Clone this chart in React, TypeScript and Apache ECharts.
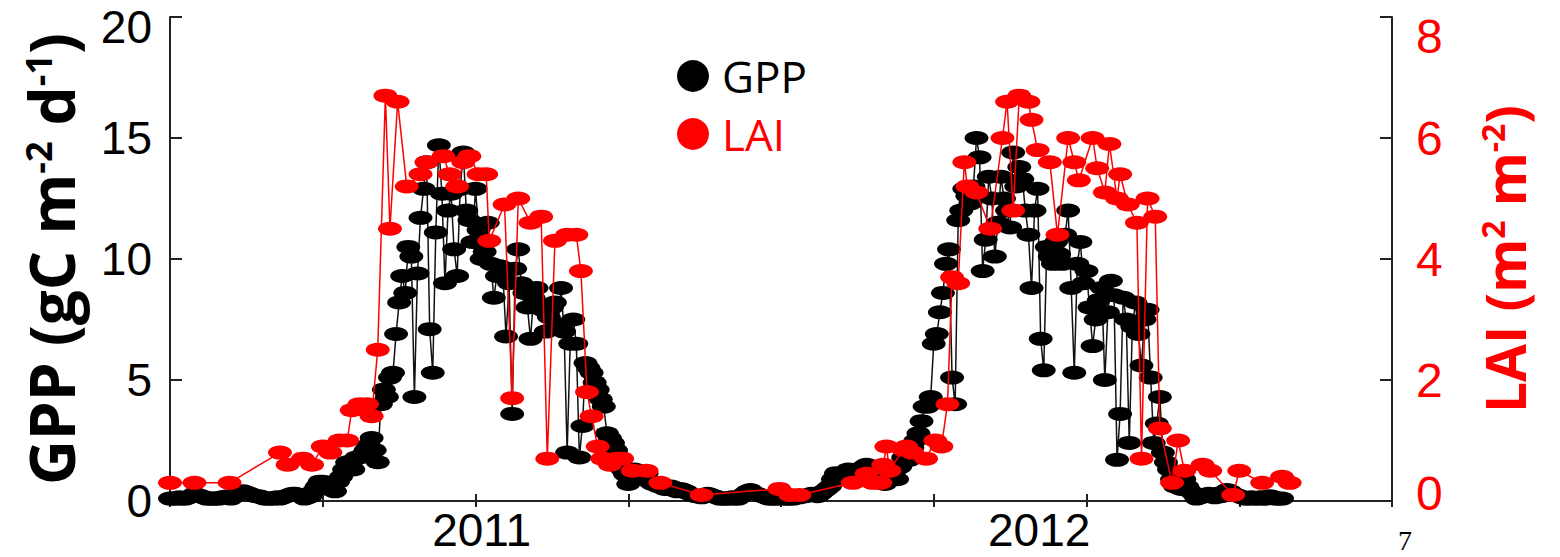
import React, { useEffect, useRef } from "react";
import * as echarts from "echarts";

// Dates are MATLAB-style day numbers (734504 = 1 Jan 2011)
const X_MIN = 734300;
const X_MAX = 735100;
const X_TICK = 100;
const yearLabelDates = [734504, 734869];
const yearLabelTexts = ["2011", "2012"];

// GPP every 2 days: gppA on days X_MIN + 4k, gppB on days X_MIN + 4k + 2
const GPP_START = 734300;
const gppA = [
  0.1, 0.1, 0.1, 0.15, 0.3, 0.2, 0.1, 0.1, 0.1, 0.15,
  0.1, 0.3, 0.4, 0.3, 0.2, 0.15, 0.1, 0.1, 0.1, 0.2,
  0.3, 0.25, 0.1, 0.2, 0.6, 0.8, 0.5, 0.4, 1.0, 1.6,
  1.3, 1.8, 2.1, 2.6, 1.6, 4.6, 5.1, 6.9, 9.3, 10.5,
  4.3, 11.7, 14.0, 5.3, 14.7, 9.0, 12.7, 9.3, 14.4, 11.6,
  12.9, 10.0, 11.5, 8.4, 9.7, 6.8, 3.6, 10.4, 8.6, 6.7,
  8.8, 7.9, 7.6, 8.2, 8.8, 2.0, 7.5, 1.8, 5.7, 5.3,
  4.6, 3.9, 2.6, 2.1, 1.3, 0.7, 1.3, 1.0, 1.15, 0.7,
  0.6, 0.5, 0.6, 0.4, 0.45, 0.3, 0.2, 0.15, 0.3, 0.2,
  0.1, 0.1, 0.15, 0.1, 0.3, 0.45, 0.3, 0.2, 0.1, 0.1,
  0.15, 0.1, 0.1, 0.15, 0.2, 0.3, 0.2, 0.4, 0.6, 1.15,
  0.9, 1.3, 0.8, 1.2, 1.5, 1.4, 1.0, 0.7, 1.3, 0.9,
  1.8, 1.7, 2.5, 3.3, 3.9, 6.5, 7.8, 9.8, 5.1, 11.6,
  12.9, 12.3, 15.0, 9.5, 13.4, 10.1, 13.4, 12.0, 14.4, 13.8,
  12.0, 8.8, 12.9, 5.4, 10.1, 10.7, 9.8, 12.0, 5.3, 10.7,
  9.5, 6.4, 8.3, 5.0, 9.1, 1.7, 8.4, 2.4, 8.2, 5.6,
  7.9, 2.4, 4.3, 1.6, 0.9, 0.6, 0.9, 0.4, 0.1, 0.2,
  0.3, 0.15, 0.2, 0.45, 0.3, 0.2, 0.1, 0.15, 0.1, 0.1,
  0.2, 0.1, 0.1,
];
const gppB = [
  0.1, 0.15, 0.1, 0.2, 0.25, 0.15, 0.1, 0.1, 0.15, 0.2,
  0.2, 0.35, 0.35, 0.25, 0.2, 0.1, 0.1, 0.15, 0.15, 0.25,
  0.3, 0.2, 0.15, 0.4, 0.8, 0.7, 0.6, 0.8, 1.3, 1.5,
  1.8, 1.9, 2.3, 2.1, 4.0, 4.3, 5.3, 8.2, 8.6, 10.1,
  9.4, 12.9, 7.1, 11.1, 12.7, 12.0, 10.4, 12.9, 12.0, 10.7,
  11.2, 10.3, 9.8, 9.3, 9.3, 9.0, 9.6, 9.0, 8.0, 8.4,
  8.0, 7.0, 8.0, 7.3, 7.0, 6.5, 6.5, 3.1, 5.5, 4.9,
  4.2, 2.8, 2.4, 1.8, 1.1, 1.0, 0.9, 1.2, 0.8, 0.7,
  0.6, 0.5, 0.45, 0.5, 0.4, 0.25, 0.2, 0.2, 0.25, 0.15,
  0.1, 0.1, 0.1, 0.2, 0.4, 0.35, 0.25, 0.15, 0.1, 0.1,
  0.1, 0.1, 0.15, 0.2, 0.25, 0.25, 0.3, 0.5, 0.9, 1.0,
  1.1, 1.0, 1.3, 1.4, 1.2, 1.1, 0.9, 1.0, 1.2, 1.4,
  1.8, 2.2, 2.8, 3.9, 4.3, 6.9, 8.6, 10.4, 4.0, 12.0,
  12.6, 13.0, 14.2, 10.8, 12.5, 11.5, 12.5, 11.3, 13.0, 13.3,
  11.0, 12.0, 6.7, 10.5, 9.8, 10.2, 11.0, 8.8, 9.8, 9.0,
  8.0, 7.5, 8.8, 7.8, 8.5, 3.6, 7.5, 7.2, 6.9, 7.5,
  5.1, 3.2, 2.0, 1.3, 0.6, 0.5, 0.6, 0.3, 0.15, 0.2,
  0.2, 0.3, 0.35, 0.4, 0.25, 0.15, 0.1, 0.1, 0.15, 0.1,
  0.15, 0.1,
];

const laiDates = [
  734300, 734316, 734339, 734372, 734377, 734387, 734393, 734400, 734405, 734411,
  734416, 734419, 734424, 734429, 734432, 734436, 734441, 734444, 734449, 734455,
  734464, 734468, 734479, 734483, 734488, 734492, 734496, 734502, 734507, 734509,
  734519, 734524, 734528, 734536, 734543, 734547, 734552, 734560, 734566, 734569,
  734573, 734576, 734580, 734583, 734588, 734593, 734596, 734603, 734612, 734621,
  734648, 734699, 734706, 734712, 734747, 734756, 734760, 734765, 734767, 734769,
  734771, 734780, 734782, 734786, 734795, 734801, 734805, 734809, 734812, 734816,
  734820, 734822, 734828, 734837, 734845, 734848, 734852, 734856, 734862, 734864,
  734868, 734876, 734881, 734888, 734892, 734895, 734904, 734907, 734912, 734915,
  734920, 734922, 734927, 734933, 734936, 734940, 734945, 734948, 734956, 734960,
  734964, 734976, 734981, 734996, 735000, 735015, 735028, 735033,
];
const laiValues = [
  0.3, 0.3, 0.3, 0.8, 0.6, 0.7, 0.6, 0.9, 0.8, 1.0,
  1.0, 1.5, 1.6, 1.6, 1.4, 2.5, 6.7, 4.5, 6.6, 5.2,
  5.4, 5.6, 5.7, 5.4, 5.2, 5.6, 5.7, 5.4, 5.4, 4.3,
  4.9, 1.7, 5.0, 4.6, 4.7, 0.7, 4.3, 4.4, 4.4, 3.8,
  1.8, 1.4, 0.9, 0.7, 0.6, 0.7, 0.7, 0.5, 0.5, 0.3,
  0.1, 0.2, 0.1, 0.1, 0.3, 0.45, 0.3, 0.3, 0.6, 0.9,
  0.5, 0.85, 0.9, 0.8, 0.7, 1.0, 0.9, 1.6, 3.7, 3.6,
  5.6, 5.2, 5.1, 4.5, 6.0, 6.6, 4.8, 6.7, 6.6, 6.3,
  5.8, 5.6, 4.4, 6.0, 5.6, 5.3, 6.0, 5.5, 5.1, 5.9,
  5.0, 5.4, 4.9, 4.6, 0.7, 5.0, 4.7, 1.2, 0.3, 1.0,
  0.5, 0.6, 0.5, 0.1, 0.5, 0.3, 0.4, 0.3,
];

const GPP_MAX = 20;
const GPP_INTERVAL = 5;
const LAI_MAX = 8;
const LAI_INTERVAL = 2;
// where the reference places its y tick labels (end labels are nudged inwards)
const gppLabelAt = [0, 5, 10, 15, 19.6];
const laiLabelAt = [0.12, 2, 4, 6, 7.67];

const FONT = "'Open Sans', 'Liberation Sans', sans-serif";
const TICK_FONT = "'Liberation Sans', Arial, sans-serif";
const RED = "#ff0000";
const AXIS_COLOR = "#222";

export default function App() {
  const ref = useRef<HTMLDivElement>(null);

  useEffect(() => {
    if (!ref.current) return;
    const chart = echarts.init(ref.current, undefined, { renderer: "svg" });

    const gppData: number[][] = [];
    gppA.forEach((v, k) => {
      gppData.push([GPP_START + 4 * k, v]);
      if (k < gppB.length) gppData.push([GPP_START + 4 * k + 2, gppB[k]]);
    });
    const laiData = laiValues.map((v, i) => [laiDates[i], v]);

    const axisLine = { show: true, lineStyle: { color: AXIS_COLOR, width: 2 } };

    const option: any = {
      animation: false,
      backgroundColor: "#fff",
      grid: { left: 170, right: 168, top: 17, bottom: 56, containLabel: false },
      legend: {
        orient: "vertical",
        left: 672,
        top: 49,
        icon: "circle",
        itemWidth: 32,
        itemHeight: 32,
        itemGap: 14,
        textStyle: { fontSize: 44, lineHeight: 44, fontFamily: FONT, padding: [0, 0, 0, 8] },
        data: [
          { name: "GPP", textStyle: { color: "#000" } },
          { name: "LAI", textStyle: { color: RED } },
        ],
      },
      xAxis: [
        {
          type: "value",
          min: X_MIN,
          max: X_MAX,
          interval: X_TICK,
          axisLine,
          axisTick: { show: true, inside: true, length: 7, lineStyle: { color: AXIS_COLOR, width: 2 } },
          splitLine: { show: false },
          axisLabel: {
            show: true,
            customValues: yearLabelDates,
            formatter: (v: number) => {
              const k = yearLabelDates.indexOf(Math.round(v));
              return k >= 0 ? yearLabelTexts[k] : "";
            },
            fontSize: 46,
            lineHeight: 40,
            fontFamily: TICK_FONT,
            color: "#000",
            margin: 9,
          },
        },
        {
          type: "value",
          position: "top",
          min: X_MIN,
          max: X_MAX,
          interval: X_TICK,
          axisLine,
          axisTick: { show: true, inside: true, length: 6, lineStyle: { color: AXIS_COLOR, width: 2 } },
          axisLabel: { show: false },
          splitLine: { show: false },
        },
      ],
      yAxis: [
        {
          type: "value",
          min: 0,
          max: GPP_MAX,
          interval: GPP_INTERVAL,
          position: "left",
          axisLine,
          axisTick: { show: true, inside: true, length: 12, lineStyle: { color: AXIS_COLOR, width: 2 } },
          splitLine: { show: false },
          axisLabel: {
            customValues: gppLabelAt,
            formatter: (v: number) => String(Math.round(v / GPP_INTERVAL) * GPP_INTERVAL),
            fontSize: 46,
            lineHeight: 40,
            fontFamily: TICK_FONT,
            color: "#000",
            margin: 18,
          },
          name: "{b|GPP (gC m}{s|-2}{b| d}{s|-1}{b|)}",
          nameLocation: "middle",
          nameRotate: 90,
          nameGap: 84,
          nameTextStyle: {
            rich: {
              b: { fontSize: 62, fontWeight: "bold", fontFamily: FONT, color: "#000", lineHeight: 70 },
              s: { fontSize: 36, fontWeight: "bold", fontFamily: FONT, color: "#000", verticalAlign: "top", lineHeight: 36, padding: [4, 0, 0, 0] },
            },
          },
        },
        {
          type: "value",
          min: 0,
          max: LAI_MAX,
          interval: LAI_INTERVAL,
          position: "right",
          axisLine,
          axisTick: { show: true, inside: true, length: 12, lineStyle: { color: AXIS_COLOR, width: 2 } },
          splitLine: { show: false },
          axisLabel: {
            customValues: laiLabelAt,
            formatter: (v: number) => String(Math.round(v / LAI_INTERVAL) * LAI_INTERVAL),
            fontSize: 48,
            lineHeight: 40,
            fontFamily: TICK_FONT,
            color: RED,
            margin: 24,
          },
          name: "{b|LAI (m}{s|2}{b| m}{s|-2}{b|)}",
          nameLocation: "middle",
          nameRotate: 90,
          nameGap: 80,
          nameTextStyle: {
            rich: {
              b: { fontSize: 55, fontWeight: "bold", fontFamily: FONT, color: RED, lineHeight: 64 },
              s: { fontSize: 32, fontWeight: "bold", fontFamily: FONT, color: RED, verticalAlign: "top", lineHeight: 32, padding: [4, 0, 0, 0] },
            },
          },
        },
      ],
      graphic: [
        {
          type: "text",
          left: 1398,
          top: 526,
          style: { text: "7", fontSize: 28, fontFamily: "'Liberation Serif', serif", fill: "#000" },
        },
      ],
      series: [
        {
          name: "GPP",
          type: "line",
          xAxisIndex: 0,
          yAxisIndex: 0,
          data: gppData,
          symbol: "circle",
          symbolSize: [24, 14],
          showAllSymbol: true,
          clip: false,
          color: "#000",
          itemStyle: { color: "#000" },
          lineStyle: { color: "#111", width: 1.5 },
          z: 3,
        },
        {
          name: "LAI",
          type: "line",
          xAxisIndex: 0,
          yAxisIndex: 1,
          data: laiData,
          symbol: "circle",
          symbolSize: [24, 14],
          showAllSymbol: true,
          clip: false,
          color: RED,
          itemStyle: { color: RED },
          lineStyle: { color: RED, width: 1.5 },
          z: 4,
        },
      ],
    };

    chart.setOption(option);
    return () => chart.dispose();
  }, []);

  return (
    <div
      ref={ref}
      style={{ position: "fixed", left: 0, top: 0, width: 1560, height: 557, background: "#fff" }}
    />
  );
}
